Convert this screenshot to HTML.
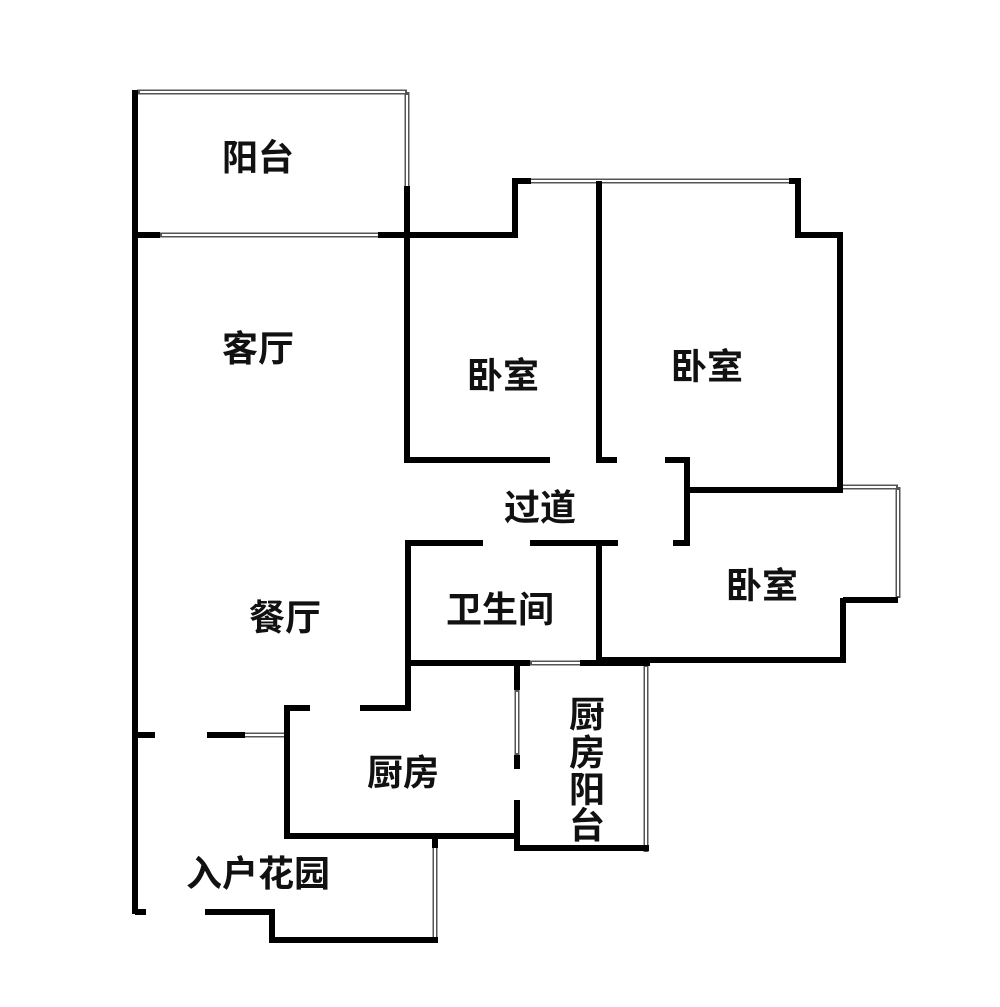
<!DOCTYPE html>
<html><head><meta charset="utf-8"><style>
html,body{margin:0;padding:0;background:#fff;}
svg{display:block;}
text{font-family:"Liberation Sans","Noto Sans CJK SC",sans-serif;font-weight:bold;font-size:36px;fill:#111;}
</style></head><body>
<svg width="1000" height="1007" viewBox="0 0 1000 1007" xmlns="http://www.w3.org/2000/svg">
<g stroke="#555" stroke-width="5" fill="none">
<line x1="137" y1="92" x2="407" y2="92"/><line x1="407" y1="92" x2="407" y2="188"/>
<line x1="160" y1="235" x2="380" y2="235"/>
<line x1="528" y1="181" x2="792" y2="181"/>
<line x1="840" y1="487" x2="898" y2="487"/><line x1="898" y1="487" x2="898" y2="598"/>
<line x1="530" y1="663" x2="582" y2="663"/>
<line x1="646" y1="664" x2="646" y2="852"/>
<line x1="517" y1="690" x2="517" y2="755"/>
<line x1="435" y1="845" x2="435" y2="940"/>
<line x1="240" y1="735" x2="287" y2="735"/>
</g>
<g stroke="#fff" stroke-width="2" fill="none">
<line x1="140" y1="92" x2="405" y2="92"/><line x1="407" y1="95" x2="407" y2="188"/>
<line x1="162" y1="235" x2="378" y2="235"/>
<line x1="531" y1="181" x2="790" y2="181"/>
<line x1="842" y1="487" x2="896" y2="487"/><line x1="898" y1="490" x2="898" y2="596"/>
<line x1="532" y1="663" x2="580" y2="663"/>
<line x1="646" y1="667" x2="646" y2="850"/>
<line x1="517" y1="692" x2="517" y2="753"/>
<line x1="435" y1="848" x2="435" y2="938"/>
<line x1="245" y1="735" x2="284" y2="735"/>
</g>
<g stroke="#000" stroke-width="6" fill="none" stroke-linecap="butt">
<line x1="135" y1="90" x2="135" y2="914"/>
<line x1="135" y1="912" x2="146" y2="912"/>
<line x1="135" y1="235" x2="160" y2="235"/>
<line x1="378" y1="235" x2="518" y2="235"/>
<polyline points="407,186 407,460 550,460"/>
<polyline points="515,235 515,181 531,181"/>
<polyline points="599,181 599,460 617,460"/>
<polyline points="789,181 798,181 798,235 840,235 840,490 687,490"/>
<polyline points="665,460 687,460 687,543 673,543"/>
<polyline points="843,600 898,600"/>
<polyline points="843,598 843,660 598,660"/>
<polyline points="405,543 483,543"/>
<polyline points="530,543 618,543"/>
<polyline points="599,543 599,663"/>
<polyline points="408,543 408,708 360,708"/>
<line x1="405" y1="663" x2="530" y2="663"/>
<line x1="580" y1="663" x2="650" y2="663"/>
<polyline points="310,708 287,708 287,836 517,836"/>
<line x1="517" y1="663" x2="517" y2="690"/>
<line x1="517" y1="755" x2="517" y2="769"/>
<polyline points="517,800 517,848 649,848"/>
<line x1="435" y1="836" x2="435" y2="848"/>
<line x1="435" y1="938" x2="435" y2="943"/>
<polyline points="205,912 272,912 272,940 438,940"/>
<line x1="135" y1="735" x2="155" y2="735"/>
<line x1="207" y1="735" x2="245" y2="735"/>
</g>
<text x="258" y="170" text-anchor="middle">阳台</text>
<text x="258" y="361" text-anchor="middle">客厅</text>
<text x="503" y="388" text-anchor="middle">卧室</text>
<text x="707" y="379" text-anchor="middle">卧室</text>
<text x="540" y="520" text-anchor="middle">过道</text>
<text x="762" y="598" text-anchor="middle">卧室</text>
<text x="500" y="622" text-anchor="middle">卫生间</text>
<text x="285" y="630" text-anchor="middle">餐厅</text>
<text x="403" y="785" text-anchor="middle">厨房</text>
<text x="587" y="727" text-anchor="middle">厨</text>
<text x="587" y="765" text-anchor="middle">房</text>
<text x="587" y="802" text-anchor="middle">阳</text>
<text x="587" y="838" text-anchor="middle">台</text>
<text x="258" y="886" text-anchor="middle">入户花园</text>
</svg>
</body></html>
